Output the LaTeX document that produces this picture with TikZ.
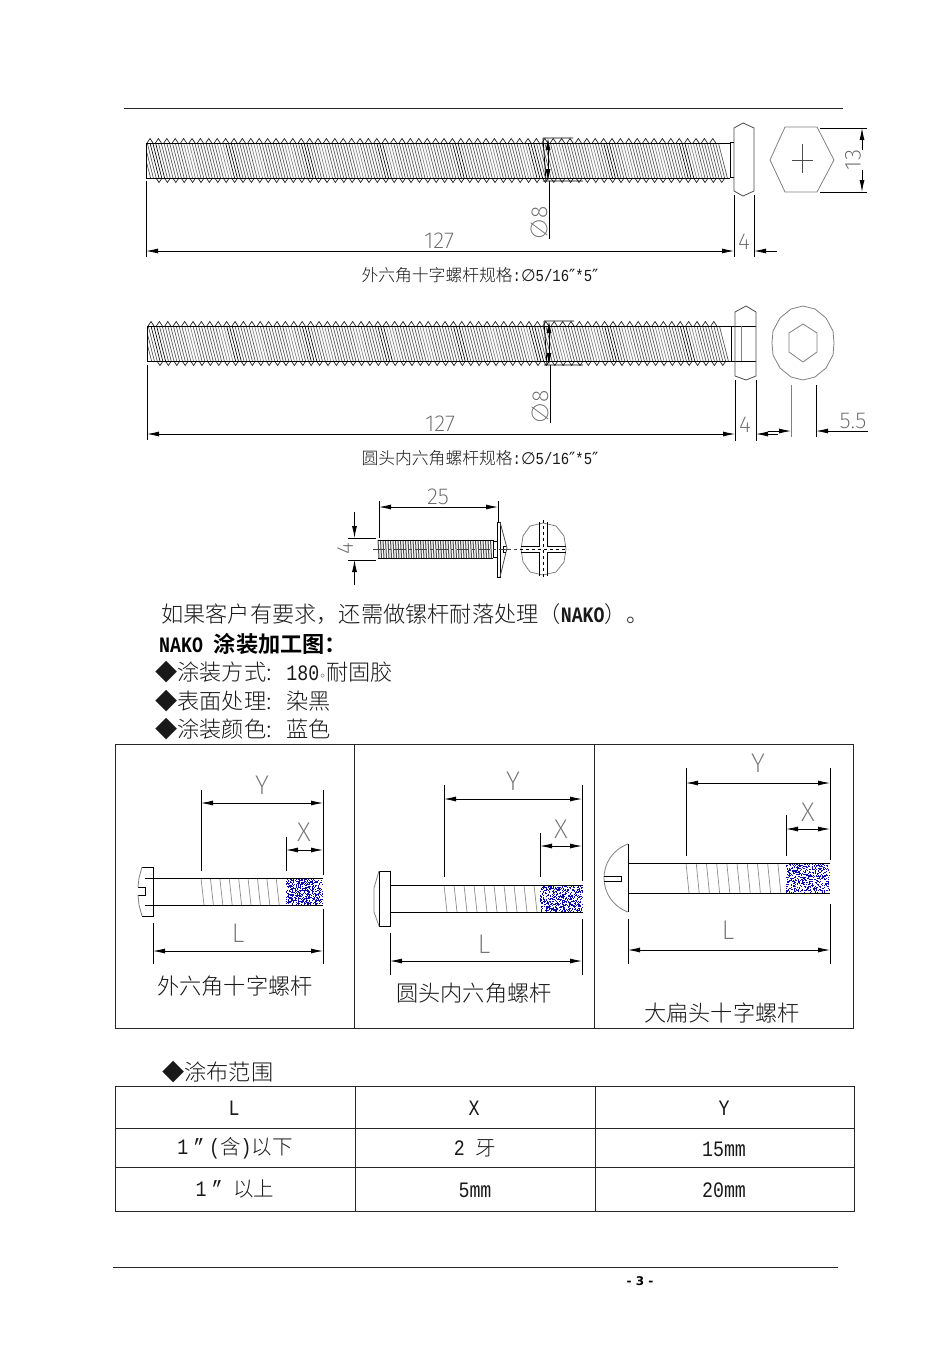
\documentclass[tikz,border=0pt]{standalone}
\usepackage{fontspec}
\usetikzlibrary{arrows.meta}
\setmainfont{Liberation Serif}
\newfontfamily\cjk[BoldFont=Noto Sans CJK SC Bold]{Noto Sans CJK SC Light}
\newfontfamily\mono[FakeStretch=0.83]{Liberation Mono}
\newfontfamily\cad{Fira Sans ExtraLight}
\newfontfamily\symb{DejaVu Sans}
\newcommand\cellfont{\mono\fontsize{22}{22}\selectfont}
\newcommand\capfont{\mono\fontsize{16.8}{17}\selectfont}
\definecolor{dotblue}{RGB}{10,10,170}
% threaded rod: x0, number of threads, core top, core bottom, crest height
\newcommand\threadrod[5]{%
  \begin{scope}
  \clip (#1-4,#3) rectangle (#1+8.4*#2+16,#4);
  \foreach \i in {-1,...,#2}{
    \pgfmathsetmacro\tx{#1+8.4*\i}
    \pgfmathtruncatemacro\tk{mod(\i+9,9)}
    \pgfmathtruncatemacro\tj{mod(\i+9,4)}
    \ifnum\tk=0 \def\tcol{black}\else\ifnum\tj=1 \def\tcol{black!50}\else\def\tcol{black!68}\fi\fi
    \draw[\tcol,line width=.65pt] (\tx,#3) -- ++(9,#4-#3) (\tx+2.8,#3) -- ++(9,#4-#3) (\tx+5.6,#3) -- ++(9,#4-#3);
  }
  \end{scope}
  \foreach \i in {0,...,#2}{
    \pgfmathsetmacro\tx{#1+8.4*\i}
    \draw[black!85,line width=.7pt] (\tx-3,#3) -- (\tx,#3-#5) -- (\tx+3,#3);
    \draw[black!85,line width=.7pt] (\tx+6,#4) -- (\tx+9,#4+#5) -- (\tx+12,#4);
  }
}
% slanted thread lines of the coated screws: x0, count, pitch, top, bottom
\newcommand\threadlines[5]{%
  \foreach \i in {0,...,#2}{
    \pgfmathsetmacro\tx{#1+#3*\i}
    \draw[thread] (\tx,#4) -- (\tx+3,#5);
  }
}
% blue stipple: x0, x1, y0, y1
\newcommand\bluepatch[4]{%
  \foreach \i in {1,...,620}{
    \pgfmathsetmacro\px{#1+rnd*(#2-#1-1)}
    \pgfmathsetmacro\py{#3+rnd*(#4-#3-1)}
    \fill[dotblue] (\px,\py) rectangle ++(1,1);
  }
}
\begin{document}
\begin{tikzpicture}[x=1pt,y=-1pt]
	\tikzstyle{rule}=[line width=.8pt, black!85]
	\tikzstyle{outline}=[line width=.8pt, black]
	\tikzstyle{grayline}=[line width=.8pt, black!50]
	\tikzstyle{thread}=[line width=.7pt, black!45]
	\tikzstyle{extline}=[line width=.8pt, black]
	\tikzstyle{dimline}=[{Latex[length=12pt,width=5pt]}-{Latex[length=12pt,width=5pt]}, line width=.8pt, black]
	\tikzstyle{tipend}=[-{Latex[length=12pt,width=5pt]}, line width=.8pt, black]
	\tikzstyle{cadtext}=[inner sep=0pt, black!60, font=\cad\fontsize{23}{23}\selectfont]
	\tikzstyle{bigcad}=[inner sep=0pt, black!55, font=\cad\fontsize{27}{27}\selectfont]
	\tikzstyle{caption}=[inner sep=0pt, black!90, font=\cjk\fontsize{16.8}{17}\selectfont]
	\tikzstyle{bodytext}=[inner sep=0pt, anchor=west, black!90, font=\cjk\fontsize{22.2}{23}\selectfont]
	\tikzstyle{celltext}=[inner sep=0pt, black!90, font=\cjk\fontsize{20.5}{22}\selectfont]
	\useasboundingbox (0,0) rectangle (950,1345);
	\fill[white] (0,0) rectangle (950,1345);
	\pgfmathsetseed{7}
	\draw[rule] (124,108) -- (843,108);
	%first screw
	\threadrod{150}{67}{143}{178}{4.5}
	\draw[outline] (146,143) -- (730,143) (146,178) -- (730,178) (146,143) -- (146,178);
	\draw[outline] (730,142) -- (734,142) (730,177) -- (734,177) (730,142) -- (730,177);
	\draw[grayline,black!70] (734,128) -- (743,123) -- (754,128) -- (754,191) -- (743,196) -- (734,191) -- cycle;
	\draw[grayline] (785,127) -- (817,127) -- (834,160) -- (817,192) -- (785,192) -- (770,160) -- cycle;
	\draw[grayline,black!70] (792,160) -- (813,160) (802,144) -- (802,173);
	\draw[extline] (820,128) -- (867,128) (820,192) -- (867,192);
	\draw[tipend] (862,150) -- (862,128);
	\draw[tipend] (862,170) -- (862,192);
	\node[cadtext,rotate=90] (dimhex) at (853,160) {13};
	\draw[extline] (543,138) -- (573,138) (543,181) -- (583,181) (543,138) -- (546,181);
	\draw[dimline] (548,138) -- (548,181);
	\draw[extline] (549,181) -- (549,239);
	\node[cadtext,rotate=90] (dimdiaA) at (539,223) {∅8};
	\draw[dimline] (146,251) -- (734,251);
	\draw[extline] (146,181) -- (146,257) (734,195) -- (734,257) (754,195) -- (754,257);
	\draw[tipend] (777,251) -- (754,251);
	\node[cadtext] (dimlenA) at (439,241) {127};
	\node[cadtext] (dimheadA) at (744,242) {4};
	\node[caption] (capA) at (480,275) {外六角十字螺杆规格\capfont:\symb∅\capfont5/16\symb″\capfont*5\symb″};
	%second screw
	\threadrod{151}{67}{326}{361}{4.5}
	\draw[outline] (147,326) -- (731,326) (147,361) -- (731,361) (147,326) -- (147,361);
	\draw[outline] (731,326) -- (731,361) (731,326) -- (756,326) (731,361) -- (756,361);
	\draw[grayline,black!70] (735,312) -- (746,306) -- (756,312) -- (756,376) -- (746,380) -- (735,376) -- cycle;
	\draw[grayline] (741,326) -- (741,361);
	\draw[grayline] (803,306) -- (815,309) -- (826,318) -- (833,331) -- (834,343) -- (833,355) -- (826,368) -- (815,377) -- (803,380) -- (791,377) -- (780,368) -- (773,355) -- (772,343) -- (773,331) -- (780,318) -- (791,309) -- cycle;
	\draw[grayline] (803,324) -- (817,333) -- (817,352) -- (803,362) -- (789,352) -- (789,333) -- cycle;
	\draw[extline] (544,321) -- (574,321) (544,365) -- (583,365) (544,321) -- (547,365);
	\draw[dimline] (549,321) -- (549,365);
	\draw[extline] (550,365) -- (550,423);
	\node[cadtext,rotate=90] (dimdiaB) at (540,407) {∅8};
	\draw[dimline] (147,434) -- (735,434);
	\draw[extline] (147,365) -- (147,440) (735,380) -- (735,441) (756,380) -- (756,441);
	\draw[tipend] (778,434) -- (756,434);
	\draw[tipend] (768,431) -- (791,431);
	\draw[tipend] (868,431) -- (816,431);
	\draw[grayline] (791,385) -- (791,437);
	\draw[extline] (816,385) -- (816,437);
	\node[cadtext] (dimlenB) at (440,424) {127};
	\node[cadtext] (dimheadB) at (745,425) {4};
	\node[cadtext] (dimsock) at (853,421) {5.5};
	\node[caption] (capB) at (480,458) {圆头内六角螺杆规格\capfont:\symb∅\capfont5/16\symb″\capfont*5\symb″};
	%small screw
	\foreach \i in {0,...,45}{
		\pgfmathsetmacro\tx{378+2.5*\i}
		\draw[black!70,line width=1pt] (\tx,540) -- (\tx+1,558);
	}
	\draw[outline] (378,540) -- (493,540) (378,558) -- (493,558) (493,541) -- (497,541) (493,557) -- (497,557) (493,540) -- (493,558);
	\draw[outline] (497,522) rectangle (500,577);
	\draw[grayline,black!70] (500,522) -- (507,548) -- (500,577);
	\draw[outline] (506,546) -- (503,546) -- (503,552) -- (506,552) (503,549) -- (506,549);
	\draw[black!75,line width=.6pt,dash pattern=on 12pt off 3pt on 3pt off 3pt] (373,549) -- (520,549);
	\draw[dimline] (379,507) -- (498,507);
	\draw[extline] (379,501) -- (379,538) (498,501) -- (498,522);
	\node[cadtext] (dimlong) at (438,497) {25};
	\draw[extline] (348,538) -- (376,538) (348,560) -- (376,560);
	\draw[tipend] (354.5,512) -- (354.5,538);
	\draw[tipend] (354.5,585) -- (354.5,560);
	\node[cadtext,rotate=90] (dimthick) at (345,549) {4};
	\draw[grayline] (543,523) -- (556,526) -- (564,536) -- (566,549) -- (564,562) -- (556,572) -- (543,575) -- (530,572) -- (523,562) -- (521,549) -- (523,536) -- (530,526) -- cycle;
	\draw[outline] (539,522) -- (539,546) -- (521,546) (547,522) -- (547,546) -- (566,546) (539,576) -- (539,552) -- (521,552) (547,576) -- (547,552) -- (566,552);
	\draw[black,line width=.7pt,dashed] (543,520) -- (543,578) (520,549) -- (568,549);
	%text block
	\node[bodytext] (lineA) at (161,614) {如果客户有要求，还需做镙杆耐落处理（{\cellfont\bfseries NAKO}）。};
	\node[bodytext,black] (lineB) at (159,644) {\bfseries{\cellfont NAKO }涂装加工图：};
	\node[bodytext] (lineC) at (155,672) {◆涂装方式:{\cellfont{} 180}{\symb\fontsize{12}{12}\selectfont◦}耐固胶};
	\node[bodytext] (lineD) at (155,701) {◆表面处理:{\cellfont{} }染黑};
	\node[bodytext] (lineE) at (155,729) {◆涂装颜色:{\cellfont{} }蓝色};
	%three coated screws
	\draw[rule] (115,744) rectangle (853,1028) (354,744) -- (354,1028) (594,744) -- (594,1028);
	\threadlines{201}{8}{9.4}{878}{905}
	\bluepatch{286}{323}{878}{905}
	\draw[outline] (153,878) -- (323,878) (153,905) -- (323,905);
	\draw[outline] (142,867) -- (153,867) -- (153,916) -- (142,916);
	\draw[outline] (145,878) -- (153,878) (145,905) -- (153,905) (138,887) -- (145,887) -- (145,895) -- (138,895);
	\draw[grayline] (142,867) -- (139,878) -- (138,887) (138,895) -- (139,905) -- (142,916);
	\draw[dimline] (201,803) -- (323,803);
	\draw[extline] (201,790) -- (201,871) (323,790) -- (323,875);
	\draw[dimline] (286,850) -- (323,850);
	\draw[extline] (286,837) -- (286,871);
	\draw[dimline] (153,951) -- (323,951);
	\draw[extline] (153,923) -- (153,964) (323,909) -- (323,964);
	\node[bigcad] (dimyA) at (262,785) {Y};
	\node[bigcad] (dimxA) at (304,832) {X};
	\node[bigcad] (dimlA) at (238,933) {L};
	\node[bodytext,anchor=center] (capC) at (235,986) {外六角十字螺杆};
	\threadlines{444}{9}{10}{885}{912}
	\bluepatch{540}{583}{885}{912}
	\draw[outline] (390,885) -- (583,885) (390,912) -- (583,912);
	\draw[outline] (379,871) rectangle (390,926);
	\draw[grayline] (379,871) -- (374,888) -- (374,912) -- (379,926);
	\draw[dimline] (444,799) -- (582,799);
	\draw[extline] (444,785) -- (444,877) (582,785) -- (582,881);
	\draw[dimline] (540,846) -- (582,846);
	\draw[extline] (540,833) -- (540,877);
	\draw[dimline] (390,961) -- (582,961);
	\draw[extline] (390,933) -- (390,975) (582,919) -- (582,975);
	\node[bigcad] (dimyB) at (513,781) {Y};
	\node[bigcad] (dimxB) at (561,829) {X};
	\node[bigcad] (dimlB) at (484,944) {L};
	\node[bodytext,anchor=center] (capD) at (474,993) {圆头内六角螺杆};
	\threadlines{686}{9}{10.2}{863}{893}
	\bluepatch{786}{830}{863}{893}
	\draw[outline] (628,863) -- (830,863) (628,893) -- (830,893);
	\draw[grayline] (628,844) .. controls (612,850) and (604,864) .. (604,878) .. controls (604,892) and (612,906) .. (628,912);
	\draw[outline] (628,844) -- (628,912);
	\draw[outline] (604,876) -- (621,876) -- (621,881) -- (604,881);
	\draw[dimline] (686,783) -- (830,783);
	\draw[extline] (686,768) -- (686,856) (830,768) -- (830,860);
	\draw[dimline] (786,829) -- (830,829);
	\draw[extline] (786,815) -- (786,856);
	\draw[dimline] (628,950) -- (830,950);
	\draw[extline] (628,919) -- (628,964) (830,904) -- (830,964);
	\node[bigcad] (dimyC) at (758,763) {Y};
	\node[bigcad] (dimxC) at (808,812) {X};
	\node[bigcad] (dimlC) at (728,930) {L};
	\node[bodytext,anchor=center] (capE) at (722,1013) {大扁头十字螺杆};
	%coating range table
	\node[bodytext] (lineF) at (162,1072) {◆涂布范围};
	\draw[rule] (115,1086) rectangle (854,1211) (115,1128) -- (854,1128) (115,1167) -- (854,1167) (355,1086) -- (355,1211) (595,1086) -- (595,1211);
	\node[celltext,font=\cellfont] (headL) at (234,1108) {L};
	\node[celltext,font=\cellfont] (headX) at (474,1108) {X};
	\node[celltext,font=\cellfont] (headY) at (724,1108) {Y};
	\node[celltext] (rowAL) at (235,1148) {{\cellfont 1\hspace{5pt}”\hspace{5pt}(}含{\cellfont )}以下};
	\node[celltext] (rowAX) at (475,1148) {{\cellfont 2 }牙};
	\node[celltext,font=\cellfont] (rowAY) at (724,1149) {15mm};
	\node[celltext] (rowBL) at (235,1189) {{\cellfont 1\hspace{5pt}” }以上};
	\node[celltext,font=\cellfont] (rowBX) at (475,1190) {5mm};
	\node[celltext,font=\cellfont] (rowBY) at (724,1190) {20mm};
	%footer
	\draw[rule] (113,1267) -- (838,1267);
	\node[inner sep=0pt, font=\symb\bfseries\fontsize{12}{12}\selectfont] (pageno) at (640,1281) {- 3 -};
\end{tikzpicture}
\end{document}
